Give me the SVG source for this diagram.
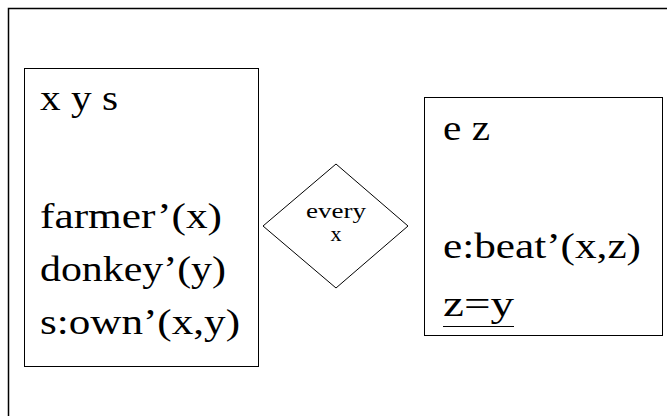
<svg xmlns="http://www.w3.org/2000/svg" width="667" height="416" viewBox="0 0 667 416">
<style>
.frame{fill:none;stroke:#000;stroke-width:1.5}
.box{fill:#fff;stroke:#000;stroke-width:1}
.t{font-family:"Liberation Serif","DejaVu Serif",serif;font-size:36px;fill:#000}
.s{font-family:"Liberation Serif","DejaVu Serif",serif;font-size:22px;fill:#000;text-anchor:middle}
</style>
<rect width="667" height="416" fill="#fff"/>
<path class="frame" d="M8.5,420 V8.5 H670"/>
<g id="left-box">
<rect class="box" x="24.5" y="68.5" width="234" height="298"/>
<text class="t" x="40" y="110" textLength="78" lengthAdjust="spacingAndGlyphs">x y s</text>
<text class="t" x="40" y="228" textLength="182" lengthAdjust="spacingAndGlyphs">farmer’(x)</text>
<text class="t" x="40" y="281" textLength="186" lengthAdjust="spacingAndGlyphs">donkey’(y)</text>
<text class="t" x="40" y="334" textLength="200" lengthAdjust="spacingAndGlyphs">s:own’(x,y)</text>
</g>
<g id="quantifier">
<polygon class="box" points="336,164 408,226 336,288 263,226"/>
<text class="s" x="336" y="218" textLength="60" lengthAdjust="spacingAndGlyphs">every</text>
<text class="s" x="336" y="241">x</text>
</g>
<g id="right-box">
<rect class="box" x="424.5" y="97.5" width="238" height="238"/>
<text class="t" x="443" y="140" textLength="47" lengthAdjust="spacingAndGlyphs">e z</text>
<text class="t" x="443" y="258" textLength="198" lengthAdjust="spacingAndGlyphs">e:beat’(x,z)</text>
<text class="t" x="443" y="316" textLength="71" lengthAdjust="spacingAndGlyphs">z=y</text>
<line x1="443" y1="326.5" x2="514" y2="326.5" stroke="#000" stroke-width="1"/>
</g>
<g id="connectors"></g>
</svg>
